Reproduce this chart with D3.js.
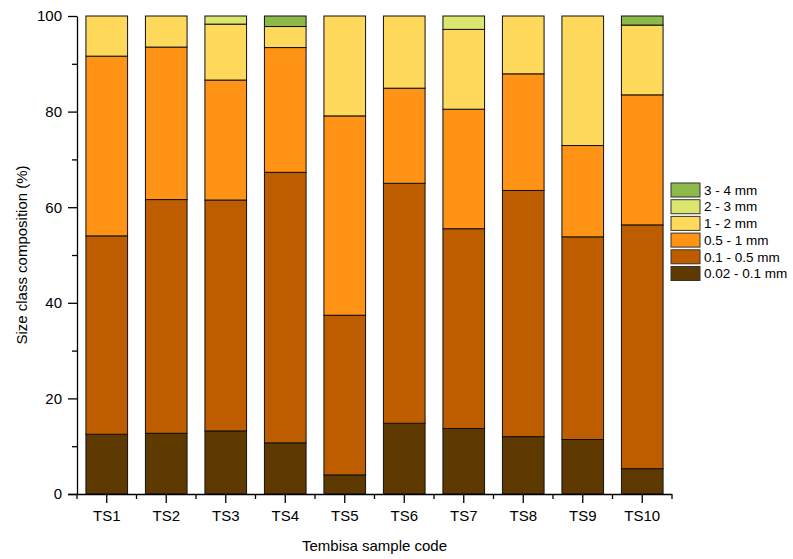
<!DOCTYPE html>
<html lang="en">
<head>
<meta charset="UTF-8">
<title>Size class composition</title>
<script src="https://d3js.org/d3.v7.min.js"></script>
<style>
    body { margin: 0; background: #fff; font-family: Arial, "Liberation Sans", sans-serif; }
    .axis-label { font-size: 15px; fill: #000; text-anchor: middle; }
    .tick-label { font-size: 15px; fill: #000; }
    .legend-text { font-size: 13.5px; fill: #000; }
</style>
</head>
<body>
<div id="chart"></div>
<script>
// samples along the x axis
const samples = ["TS1", "TS2", "TS3", "TS4", "TS5", "TS6", "TS7", "TS8", "TS9", "TS10"];

// size classes, bottom of the stack first
const classes = ["0.02 - 0.1 mm", "0.1 - 0.5 mm", "0.5 - 1 mm", "1 - 2 mm", "2 - 3 mm", "3 - 4 mm"];

// percentage of each class per sample
const vFine   = [12.5, 12.7, 13.2, 10.7,  4.0, 14.8, 13.7, 12.0, 11.4,  5.3];
const vSmall  = [41.5, 48.9, 48.3, 56.6, 33.4, 50.2, 41.8, 51.5, 42.4, 51.0];
const vMedium = [37.6, 31.9, 25.1, 26.1, 41.7, 19.9, 25.0, 24.4, 19.1, 27.2];
const vCoarse = [ 8.4,  6.5, 11.7,  4.4, 20.9, 15.1, 16.7, 12.1, 27.1, 14.6];
const vVery   = [ 0.0,  0.0,  1.7,  0.0,  0.0,  0.0,  2.8,  0.0,  0.0,  0.0];
const vGravel = [ 0.0,  0.0,  0.0,  2.2,  0.0,  0.0,  0.0,  0.0,  0.0,  1.9];

const classColors = ["#5E3A00", "#BD5D00", "#FE9315", "#FFD95B", "#DAE66E", "#8DB84A"];

const yTicks = [0, 20, 40, 60, 80, 100];
const yMinor = [10, 30, 50, 70, 90];

const series = [vFine, vSmall, vMedium, vCoarse, vVery, vGravel];
const table = samples.map((s, i) => {
    const row = { sample: s };
    classes.forEach((c, j) => { row[c] = series[j][i]; });
    return row;
});

const W = 793, H = 559;
const margin = { top: 16, right: 121, bottom: 65, left: 77 };
const width = W - margin.left - margin.right;
const height = H - margin.top - margin.bottom;

const svg = d3.select("#chart").append("svg")
    .attr("width", W)
    .attr("height", H);

const g = svg.append("g")
    .attr("transform", `translate(${margin.left},${margin.top})`);

const x = d3.scaleBand()
    .domain(samples)
    .range([0, width])
    .paddingInner(0.3)
    .paddingOuter(0.15);

const y = d3.scaleLinear()
    .domain([0, 100])
    .range([height, 0]);

const color = d3.scaleOrdinal().domain(classes).range(classColors);

const stacked = d3.stack().keys(classes)(table);

// bars
g.selectAll(".layer")
    .data(stacked)
    .enter().append("g")
    .attr("class", "layer")
    .attr("fill", d => color(d.key))
    .selectAll("rect")
    .data(d => d.filter(p => p[1] - p[0] > 0))
    .enter().append("rect")
    .attr("x", d => x(d.data.sample))
    .attr("y", d => y(d[1]))
    .attr("width", x.bandwidth())
    .attr("height", d => y(d[0]) - y(d[1]))
    .attr("stroke", "#111")
    .attr("stroke-width", 1);

// y axis
const yAxis = g.append("g")
    .call(d3.axisLeft(y).tickValues(yTicks).tickSize(9).tickPadding(6).tickSizeOuter(0));
yAxis.select(".domain").attr("stroke-width", 1.3);
yAxis.selectAll(".tick line").attr("stroke-width", 1.3);
yAxis.selectAll(".tick text").attr("class", "tick-label").attr("font-size", null).attr("font-family", null);
g.append("g")
    .call(d3.axisLeft(y).tickValues(yMinor).tickSize(5).tickFormat("").tickSizeOuter(0))
    .call(a => a.select(".domain").remove())
    .selectAll(".tick line").attr("stroke-width", 1.3);

// x axis
const xAxis = g.append("g")
    .attr("transform", `translate(0,${height})`)
    .call(d3.axisBottom(x).tickSize(9).tickPadding(7).tickSizeOuter(0));
xAxis.select(".domain").attr("d", `M-9,0.5H${width}`).attr("stroke-width", 1.3);
xAxis.selectAll(".tick line").attr("stroke-width", 1.3);
xAxis.selectAll(".tick text").attr("class", "tick-label").attr("font-size", null).attr("font-family", null);

// minor ticks on band edges
const edges = samples.map(s => x(s) - x.step() * x.paddingInner() / 2).concat([width]);
g.append("g")
    .selectAll("line")
    .data(edges)
    .enter().append("line")
    .attr("x1", d => d).attr("x2", d => d)
    .attr("y1", height).attr("y2", height + 5)
    .attr("stroke", "#000")
    .attr("stroke-width", 1.3);

// axis titles
svg.append("text")
    .attr("class", "axis-label")
    .attr("x", margin.left + width / 2)
    .attr("y", 551)
    .text("Tembisa sample code");

svg.append("text")
    .attr("class", "axis-label")
    .attr("transform", "rotate(-90)")
    .attr("x", -(margin.top + height / 2))
    .attr("y", 27)
    .text("Size class composition (%)");

// legend, top entry is the coarsest class
const legendItems = classes.slice().reverse();
const legend = svg.append("g")
    .attr("transform", "translate(671,183)");

const item = legend.selectAll(".item")
    .data(legendItems)
    .enter().append("g")
    .attr("class", "item")
    .attr("transform", (d, i) => `translate(0,${i * 16.7})`);

item.append("rect")
    .attr("width", 29)
    .attr("height", 14)
    .attr("fill", d => color(d))
    .attr("stroke", "#333")
    .attr("stroke-width", 1);

item.append("text")
    .attr("class", "legend-text")
    .attr("x", 33)
    .attr("y", 7)
    .attr("dy", "0.35em")
    .text(d => d);
</script>
</body>
</html>
